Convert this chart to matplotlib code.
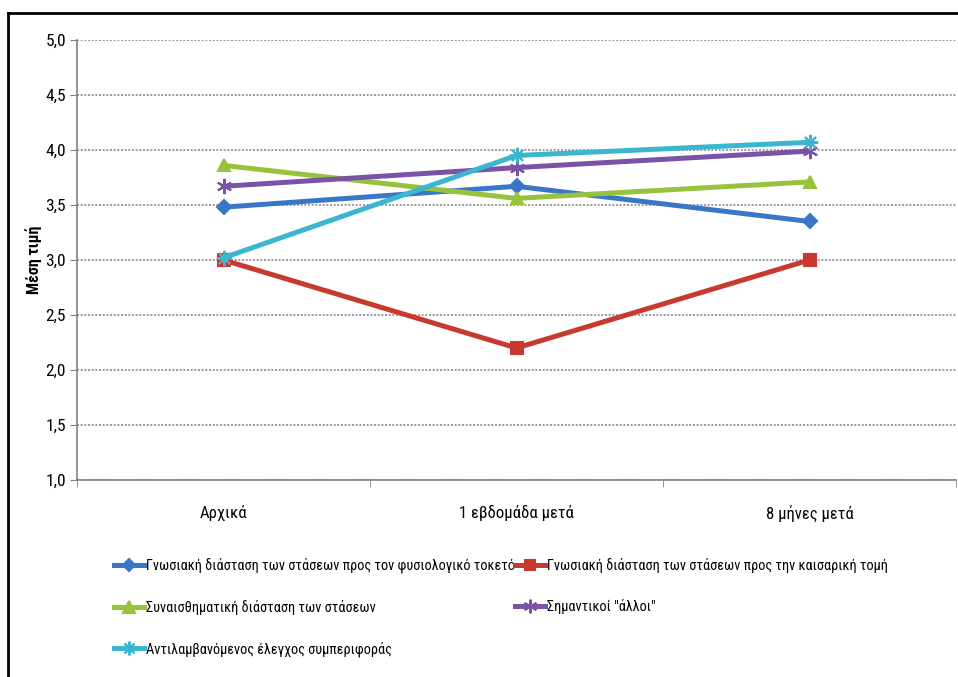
import matplotlib.pyplot as plt
from matplotlib.lines import Line2D
from matplotlib.ticker import FuncFormatter, MultipleLocator

plt.rcParams['font.family'] = ['Roboto Condensed', 'DejaVu Sans']

periods = ['Αρχικά', '1 εβδομάδα μετά', '8 μήνες μετά']
series_names = [
    'Γνωσιακή διάσταση των στάσεων προς τον φυσιολογικό τοκετό',
    'Γνωσιακή διάσταση των στάσεων προς την καισαρική τομή',
    'Συναισθηματική διάσταση των στάσεων',
    'Σημαντικοί "άλλοι"',
    'Αντιλαμβανόμενος έλεγχος συμπεριφοράς',
]
cognitive_natural = [3.48, 3.67, 3.35]
cognitive_caesarean = [3.0, 2.2, 3.0]
emotional = [3.86, 3.56, 3.71]
significant_others = [3.67, 3.84, 3.99]
perceived_control = [3.02, 3.95, 4.07]

series = [cognitive_natural, cognitive_caesarean, emotional,
          significant_others, perceived_control]
colors = ['#3a76c6', '#c8392f', '#97c23c', '#7a52a8', '#3cb6d0']
markers = ['D', 's', '^', (6, 2, 0), (8, 2, 0)]
msizes = [7, 8, 9, 11, 11]

fig = plt.figure(figsize=(9.58, 6.77), dpi=100)
ax = fig.add_axes([77 / 958, 1 - 480 / 677, (956 - 77) / 958, 440 / 677])

x = list(range(len(periods)))
lines = []
for vals, name, c, m, ms in zip(series, series_names, colors, markers, msizes):
    ln, = ax.plot(x, vals, color=c, lw=3.6, marker=m, markersize=ms,
                  markeredgecolor=c, markeredgewidth=1.5, label=name,
                  solid_joinstyle='round')
    lines.append(ln)

ax.set_xlim(-0.5, 2.5)
ax.set_ylim(1.0, 5.0)
ax.yaxis.set_major_locator(MultipleLocator(0.5))
ax.yaxis.set_major_formatter(FuncFormatter(lambda v, p: f'{v:.1f}'.replace('.', ',')))
ax.set_xticks(x)
ax.set_xticklabels(periods)
ax.set_xticks([-0.5, 0.5, 1.5, 2.5], minor=True)
ax.tick_params(axis='x', which='major', length=0, pad=18, labelsize=12)
ax.tick_params(axis='x', which='minor', length=5, color='#808080')
ax.tick_params(axis='y', length=5, color='#808080', labelsize=12.5, pad=3)

ax.grid(axis='y', color='#8a8a8a', linestyle=(0, (1.2, 1.0)), lw=1.2)
ax.set_axisbelow(True)
for s in ['top', 'right']:
    ax.spines[s].set_visible(False)
for s in ['left', 'bottom']:
    ax.spines[s].set_color('#808080')
    ax.spines[s].set_linewidth(1.2)

ax.set_ylabel('Μέση τιμή', fontsize=11.5, fontweight='bold', labelpad=2)

# legend in two columns, filled row by row
order = [0, 2, 4, 1, 3]
leg = fig.legend([lines[i] for i in order], [series_names[i] for i in order],
                 ncol=2, loc='upper left', bbox_to_anchor=(108 / 958, 1 - 552 / 677),
                 frameon=False, fontsize=10.3, handlelength=2.1, handletextpad=0.15,
                 columnspacing=0.0, labelspacing=1.85, borderaxespad=0)
for h in leg.legend_handles:
    h.set_markersize(h.get_markersize() * 0.9)

# outer chart border
fig.add_artist(Line2D([8 / 958, 1.0], [1 - 13 / 677] * 2, color='black', lw=2,
                      transform=fig.transFigure))
fig.add_artist(Line2D([8 / 958] * 2, [0.0, 1 - 13 / 677], color='black', lw=2,
                      transform=fig.transFigure))

fig.savefig('out.png', dpi=100)
